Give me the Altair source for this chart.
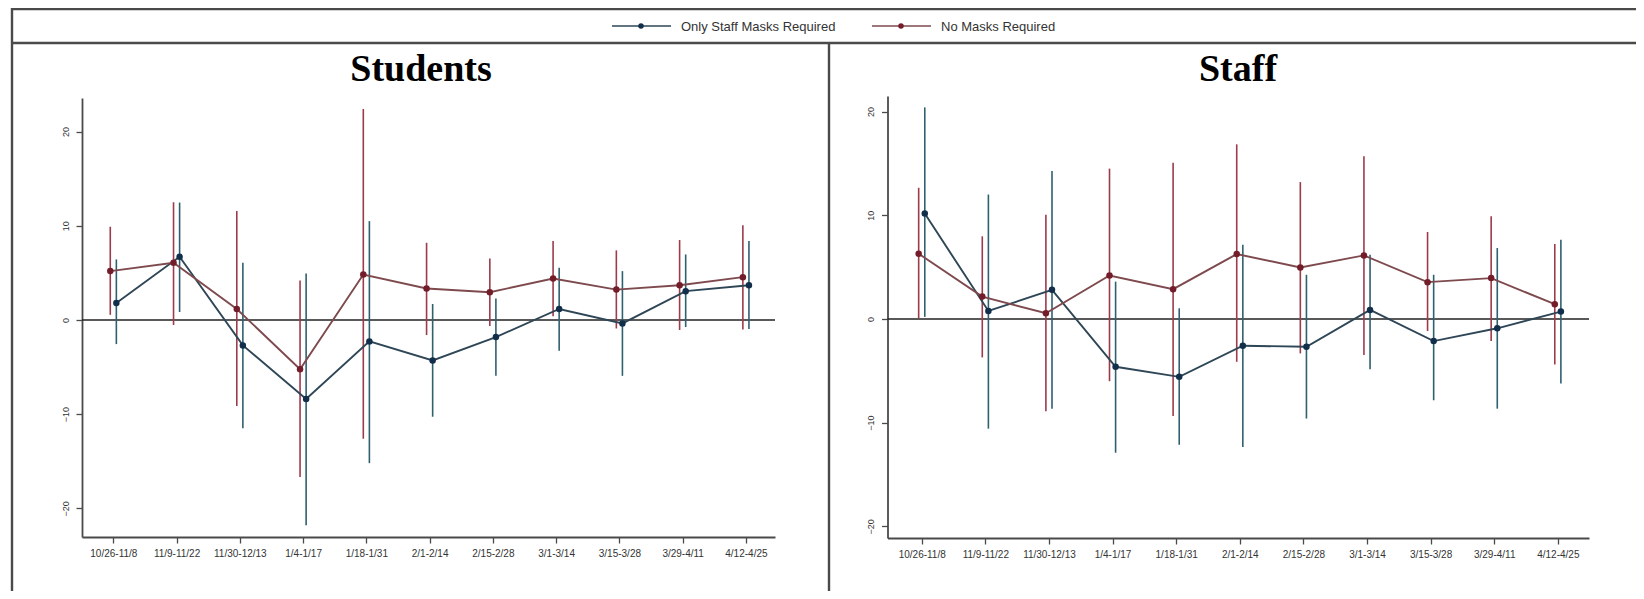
import json
import altair as alt
import pandas as pd

# ---------------- data ----------------
periods = ["10/26-11/8", "11/9-11/22", "11/30-12/13", "1/4-1/17", "1/18-1/31",
           "2/1-2/14", "2/15-2/28", "3/1-3/14", "3/15-3/28", "3/29-4/11", "4/12-4/25"]
series_names = ["Only Staff Masks Required", "No Masks Required"]

# Students panel
stu_staffmask_est = [1.81, 6.71, -2.70, -8.38, -2.27, -4.30, -1.81, 1.17, -0.36, 3.06, 3.69]
stu_staffmask_lo = [-2.56, 0.85, -11.5, -21.8, -15.2, -10.27, -5.93, -3.27, -5.93, -0.75, -0.96]
stu_staffmask_hi = [6.43, 12.47, 6.07, 4.94, 10.5, 1.7, 2.27, 5.54, 5.19, 6.96, 8.38]
stu_nomask_est = [5.19, 6.07, 1.17, -5.22, 4.83, 3.34, 2.95, 4.40, 3.23, 3.69, 4.55]
stu_nomask_lo = [0.55, -0.53, -9.13, -16.66, -12.6, -1.6, -0.64, 0.4, -0.9, -1.06, -1.0]
stu_nomask_hi = [9.9, 12.5, 11.58, 4.19, 22.4, 8.2, 6.54, 8.38, 7.39, 8.49, 10.05]

# Staff panel
stf_staffmask_est = [10.16, 0.77, 2.81, -4.61, -5.58, -2.58, -2.68, 0.87, -2.13, -0.90, 0.71]
stf_staffmask_lo = [0.2, -10.58, -8.65, -12.9, -12.13, -12.35, -9.6, -4.84, -7.84, -8.65, -6.23]
stf_staffmask_hi = [20.4, 12.0, 14.26, 3.6, 1.03, 7.16, 4.26, 6.19, 4.26, 6.84, 7.65]
stf_nomask_est = [6.29, 2.16, 0.55, 4.19, 2.87, 6.26, 4.97, 6.13, 3.55, 3.94, 1.42]
stf_nomask_lo = [0.06, -3.71, -8.9, -6.0, -9.35, -4.13, -3.32, -3.48, -1.16, -2.13, -4.39]
stf_nomask_hi = [12.65, 7.97, 10.06, 14.5, 15.06, 16.84, 13.2, 15.7, 8.39, 9.9, 7.23]

y_ticks = [-20, -10, 0, 10, 20]

# ---------------- styles ----------------
RED = {"ci": "#9B3B4B", "line": "#7E4A4E", "dot": "#731C2A"}
BLUE = {"ci": "#2F6070", "line": "#2E4656", "dot": "#112E4B"}
DODGE = 0.048
FRAME = "#4a4a4a"
LABEL_FONT = "Liberation Sans"


def build_df(staff_est, staff_lo, staff_hi, no_est, no_lo, no_hi):
    rows = []
    for name, est, lo, hi in [(series_names[0], staff_est, staff_lo, staff_hi),
                              (series_names[1], no_est, no_lo, no_hi)]:
        for i, p in enumerate(periods):
            rows.append({"idx": i, "period": p, "series": name,
                         "est": est[i], "lo": lo[i], "hi": hi[i]})
    return pd.DataFrame(rows)


def col_expr(key):
    return (f"datum.series == '{series_names[1]}' ? '{RED[key]}' : '{BLUE[key]}'")


W, H = 1628, 583


def panel(df, xdom, xrng, ydom, yrng):
    xscale = alt.Scale(domain=xdom, range=xrng, nice=False, zero=False)
    yscale = alt.Scale(domain=ydom, range=yrng, nice=False, zero=False)
    xaxis = alt.Axis(values=list(range(len(periods))),
                     labelExpr=f"{json.dumps(periods)}[datum.value]",
                     orient="bottom", offset=yrng[0] - H, grid=False,
                     domainColor=FRAME, domainWidth=1.8, tickColor=FRAME,
                     tickWidth=1.3, tickSize=6, labelFontSize=10,
                     labelFont=LABEL_FONT, labelColor="#333", labelPadding=5,
                     labelOverlap=False, labelFlush=False, title=None)
    yaxis = alt.Axis(values=y_ticks, orient="left", offset=-xrng[0], grid=False,
                     domainColor=FRAME, domainWidth=1.8, tickColor=FRAME,
                     tickWidth=1.3, tickSize=6, labelAngle=270,
                     labelAlign="center", labelBaseline="bottom",
                     labelPadding=6, labelFontSize=9, labelFont=LABEL_FONT,
                     labelColor="#333", title=None)

    base = alt.Chart(df).transform_calculate(
        xpos=f"datum.idx + (datum.series == '{series_names[1]}' ? -{DODGE} : {DODGE})",
        ci_col=col_expr("ci"), line_col=col_expr("line"), dot_col=col_expr("dot"),
    )
    X = alt.X("xpos:Q", scale=xscale, axis=xaxis)

    zero = alt.Chart(pd.DataFrame({"z": [0]})).mark_rule(
        color="#222", strokeWidth=1.6).encode(
        x=alt.X(datum=xdom[0], scale=xscale, axis=xaxis),
        x2=alt.datum(xdom[1]),
        y=alt.Y(datum=0, scale=yscale, axis=yaxis),
    )
    ci = base.mark_rule(strokeWidth=1.6).encode(
        x=X,
        y=alt.Y("lo:Q", scale=yscale, axis=yaxis),
        y2="hi:Q",
        color=alt.Color("ci_col:N", scale=None),
    )
    line = base.mark_line(strokeWidth=1.9).encode(
        x=X,
        y=alt.Y("est:Q", scale=yscale, axis=yaxis),
        color=alt.Color("line_col:N", scale=None),
        detail="series:N",
    )
    dots = base.mark_circle(size=42, opacity=1).encode(
        x=X,
        y=alt.Y("est:Q", scale=yscale, axis=yaxis),
        color=alt.Color("dot_col:N", scale=None),
    )
    return alt.layer(zero, ci, line, dots)


students = panel(build_df(stu_staffmask_est, stu_staffmask_lo, stu_staffmask_hi,
                          stu_nomask_est, stu_nomask_lo, stu_nomask_hi),
                 xdom=[-0.495, 10.46], xrng=[74, 767],
                 ydom=[-23.04, 23.57], yrng=[529, 90])
staff = panel(build_df(stf_staffmask_est, stf_staffmask_lo, stf_staffmask_hi,
                       stf_nomask_est, stf_nomask_lo, stf_nomask_hi),
              xdom=[-0.538, 10.49], xrng=[879.5, 1581],
              ydom=[-21.12, 21.5], yrng=[530, 88])

# ---------------- frame, titles, legend (decoration) ----------------
one = pd.DataFrame({"k": [0]})


def hline(y, x1, x2, w=2.4):
    return alt.Chart(one).mark_rule(color=FRAME, strokeWidth=w).encode(
        y=alt.value(y), x=alt.value(x1), x2=alt.value(x2))


def vline(x, y1, y2, w=2.4):
    return alt.Chart(one).mark_rule(color=FRAME, strokeWidth=w).encode(
        x=alt.value(x), y=alt.value(y1), y2=alt.value(y2))


def text(t, x, y, size, font, weight="normal", align="center", color="#000"):
    return alt.Chart(one).mark_text(text=t, fontSize=size, font=font,
                                    fontWeight=weight, align=align,
                                    baseline="alphabetic", color=color).encode(
        x=alt.value(x), y=alt.value(y))


def legend_item(x0, name, style):
    seg = alt.Chart(one).mark_rule(color=style["line"], strokeWidth=1.6).encode(
        y=alt.value(18), x=alt.value(x0), x2=alt.value(x0 + 59))
    dot = alt.Chart(one).mark_circle(size=30, opacity=1, color=style["dot"]).encode(
        x=alt.value(x0 + 29), y=alt.value(18))
    lab = text(name, x0 + 69, 22.5, 13, LABEL_FONT, align="left", color="#333")
    return [seg, dot, lab]


decos = [
    hline(1, 4, W),
    hline(35, 4, W),
    vline(4, 0, H),
    vline(821, 35, H),
    text("Students", 413, 73, 38, "Liberation Serif", "bold"),
    text("Staff", 1230, 73, 38, "Liberation Serif", "bold"),
] + legend_item(604, series_names[0], BLUE) + legend_item(864, series_names[1], RED)

chart = alt.layer(*decos, students, staff).resolve_scale(
    x="independent", y="independent"
).properties(
    width=W, height=H, padding=0,
    autosize=alt.AutoSizeParams(type="none"),
).configure_view(stroke=None)

chart.save("out.html", embed_options={"renderer": "svg", "actions": False})
